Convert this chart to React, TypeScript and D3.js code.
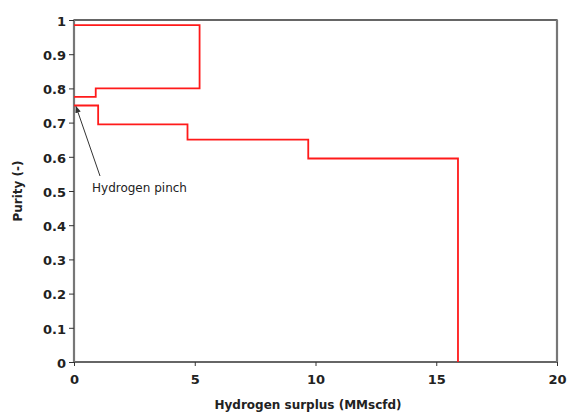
import React, {useEffect, useRef} from 'react';
import * as d3 from 'd3';

// hydrogen surplus (MMscfd) and purity for the two step curves
const upperX = [0, 5.2, 5.2, 0.9, 0.9, 0];
const upperY = [0.985, 0.985, 0.8, 0.8, 0.775, 0.775];
const lowerX = [0, 1.0, 1.0, 4.7, 4.7, 9.7, 9.7, 15.9, 15.9];
const lowerY = [0.75, 0.75, 0.695, 0.695, 0.65, 0.65, 0.595, 0.595, 0];
const xTicks = [0, 5, 10, 15, 20];
const yTicks = [0, 0.1, 0.2, 0.3, 0.4, 0.5, 0.6, 0.7, 0.8, 0.9, 1];
const pinch = {x: 0, y: 0.75, label: 'Hydrogen pinch'};

const W = 568, H = 412;
const m = {left: 74, right: 11, top: 20, bottom: 50};

export default function App() {
    const svgRef = useRef<SVGSVGElement>(null);
    useEffect(() => {
        const svg = d3.select(svgRef.current);
        svg.selectAll('*').remove();
        const x = d3.scaleLinear().domain([0, 20]).range([m.left, W - m.right]);
        const y = d3.scaleLinear().domain([0, 1]).range([H - m.bottom, m.top]);
        const font = 'DejaVu Sans, Verdana, sans-serif';

        // frame
        svg.append('rect')
            .attr('x', x(0)).attr('y', y(1))
            .attr('width', x(20) - x(0)).attr('height', y(0) - y(1))
            .attr('fill', 'none').attr('stroke', '#000').attr('stroke-width', 1.2);
        svg.append('line').attr('x1', x(0)).attr('x2', x(0)).attr('y1', y(1)).attr('y2', y(0))
            .attr('stroke', '#777').attr('stroke-width', 2.2);
        svg.append('line').attr('x1', x(20)).attr('x2', x(20)).attr('y1', y(1)).attr('y2', y(0))
            .attr('stroke', '#777').attr('stroke-width', 2.2);

        const xAxis = svg.append('g')
            .attr('transform', `translate(0,${y(0)})`)
            .call(d3.axisBottom(x).tickValues(xTicks).tickFormat(d3.format('d')).tickSize(4).tickPadding(9));
        const yAxis = svg.append('g')
            .attr('transform', `translate(${x(0)},0)`)
            .call(d3.axisLeft(y).tickValues(yTicks).tickFormat(d => String(+d)).tickSize(5).tickPadding(3));
        [xAxis, yAxis].forEach(g => {
            g.select('.domain').remove();
            g.selectAll('text').attr('font-family', font).attr('font-size', 13)
                .attr('font-weight', 'bold').attr('fill', '#222');
            g.selectAll('line').attr('stroke', '#333');
        });
        yAxis.selectAll('text').attr('dy', '0.4em');

        const path = (xs: number[], ys: number[]) =>
            d3.line<number>().x((_, i) => x(xs[i])).y((_, i) => y(ys[i]))(xs);
        svg.append('path').attr('d', path(upperX, upperY)!)
            .attr('fill', 'none').attr('stroke', '#ff1a1a').attr('stroke-width', 1.8);
        svg.append('path').attr('d', path(lowerX, lowerY)!)
            .attr('fill', 'none').attr('stroke', '#ff1a1a').attr('stroke-width', 1.8);

        // annotation arrow
        svg.append('defs').append('marker')
            .attr('id', 'arr').attr('viewBox', '0 0 10 10').attr('refX', 9).attr('refY', 5)
            .attr('markerWidth', 7).attr('markerHeight', 7).attr('orient', 'auto')
            .append('path').attr('d', 'M0,1L10,5L0,9Z').attr('fill', '#333');
        svg.append('line')
            .attr('x1', 100).attr('y1', 176)
            .attr('x2', x(pinch.x) + 2).attr('y2', y(pinch.y) + 1)
            .attr('stroke', '#333').attr('stroke-width', 1).attr('marker-end', 'url(#arr)');
        svg.append('text').attr('x', 92).attr('y', 192).text(pinch.label)
            .attr('font-family', font).attr('font-size', 12).attr('fill', '#222');

        svg.append('text')
            .attr('x', 308).attr('y', 409)
            .attr('text-anchor', 'middle').attr('font-family', font).attr('font-size', 12)
            .attr('font-weight', 'bold').attr('fill', '#222')
            .text('Hydrogen surplus (MMscfd)');
        svg.append('text')
            .attr('transform', `translate(22,${(y(0) + y(1)) / 2}) rotate(-90)`)
            .attr('text-anchor', 'middle').attr('font-family', font).attr('font-size', 12)
            .attr('font-weight', 'bold').attr('fill', '#222')
            .text('Purity (-)');
    }, []);
    return (
        <svg ref={svgRef} width={W} height={H}
             style={{position: 'absolute', left: 0, top: 0, background: '#fff'}} />
    );
}
